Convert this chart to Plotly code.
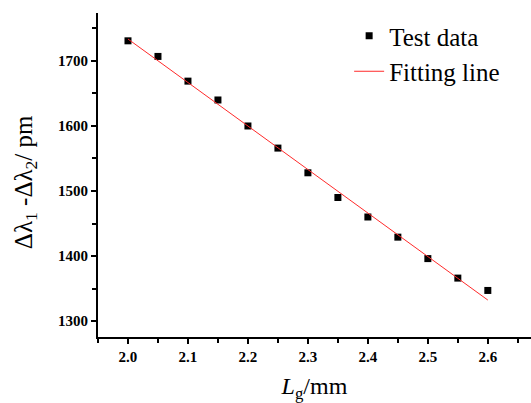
import numpy as np
import plotly.graph_objects as go

# Measured grating length (mm) and wavelength-shift difference (pm)
lg_mm = [2.00, 2.05, 2.10, 2.15, 2.20, 2.25, 2.30, 2.35, 2.40, 2.45, 2.50, 2.55, 2.60]
delta_pm = [1731, 1707, 1669, 1640, 1600, 1566, 1528, 1490, 1460, 1429, 1396, 1366, 1347]

x_ticks = [2.0, 2.1, 2.2, 2.3, 2.4, 2.5, 2.6]
y_ticks = [1300, 1400, 1500, 1600, 1700]

# Linear least-squares fit over the measured range
slope, intercept = np.polyfit(lg_mm, delta_pm, 1)
fit_x = [lg_mm[0], lg_mm[-1]]
fit_y = [slope * v + intercept for v in fit_x]

serif = "Liberation Serif, Times New Roman, serif"

fig = go.Figure()
fig.add_trace(go.Scatter(
    x=lg_mm, y=delta_pm, mode="markers", name="Test data",
    marker=dict(symbol="square", size=7, color="black"),
))
fig.add_trace(go.Scatter(
    x=fit_x, y=fit_y, mode="lines", name="Fitting line",
    line=dict(color="#ff2a2a", width=1),
))

fig.update_layout(
    width=531, height=403,
    margin=dict(l=98, r=0, t=13, b=66),
    paper_bgcolor="white", plot_bgcolor="white",
    font=dict(family=serif, color="black"),
    showlegend=True,
    legend=dict(
        x=0.58, y=1.0, xanchor="left", yanchor="top",
        bgcolor="rgba(0,0,0,0)", font=dict(size=25, family=serif),
        tracegroupgap=0, itemwidth=30,
    ),
    annotations=[dict(
        text="Δλ<sub>1</sub> -Δλ<sub>2</sub>/ pm",
        xref="paper", yref="paper", x=0, y=0.478, xshift=-73,
        xanchor="center", yanchor="middle", textangle=-90, showarrow=False,
        font=dict(size=25, family=serif, color="black"),
    )],
)

fig.update_xaxes(
    range=[1.95, 2.672], tickvals=x_ticks, ticktext=[f"{v:.1f}" for v in x_ticks],
    showgrid=False, zeroline=False, showline=True, linecolor="black", linewidth=2,
    ticks="outside", ticklen=5, tickwidth=1.5, tickcolor="black",
    minor=dict(dtick=0.05, tick0=1.95, ticks="outside", ticklen=4, tickwidth=1.5, tickcolor="black", showgrid=False),
    tickfont=dict(size=15, family=serif, weight="bold"),
    title=dict(text="<i>L</i><sub>g</sub>/mm", font=dict(size=24, family=serif), standoff=13),
)
fig.update_yaxes(
    range=[1275.4, 1773.8], tickvals=y_ticks, ticktext=[str(v) for v in y_ticks],
    showgrid=False, zeroline=False, showline=True, linecolor="black", linewidth=2,
    ticks="outside", ticklen=5, tickwidth=1.5, tickcolor="black",
    minor=dict(dtick=50, tick0=1250, ticks="outside", ticklen=4, tickwidth=1.5, tickcolor="black", showgrid=False),
    tickfont=dict(size=15, family=serif, weight="bold"),
)

fig.write_html("out.html")
